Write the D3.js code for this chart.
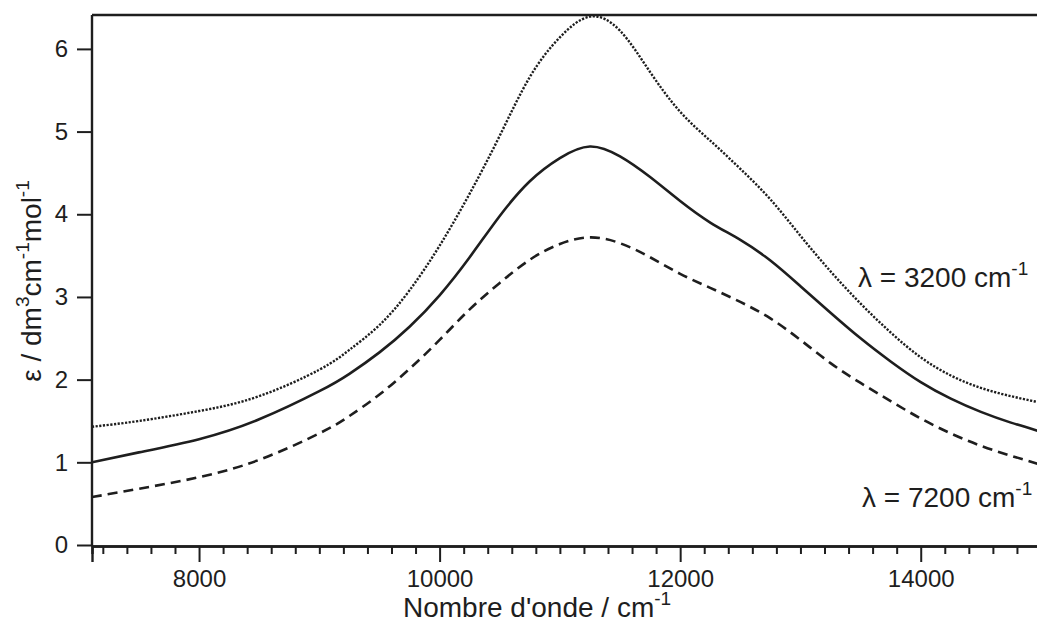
<!DOCTYPE html>
<html>
<head>
<meta charset="utf-8">
<script src="https://cdn.jsdelivr.net/npm/d3@7"></script>
<style>
  html, body { margin: 0; padding: 0; background: #fff; }
  svg { display: block; }
  text { font-family: "Liberation Sans", Arial, Helvetica, sans-serif; fill: #1e1e1e; }
</style>
</head>
<body>
<svg id="chart" width="1037" height="622"></svg>
<script>
// Wavenumber grid (cm-1)
const wavenumbers = [7110, 7500, 8000, 8500, 9000, 9250, 9500, 9750, 10000, 10250, 10500, 10750, 11000, 11250, 11500,
                     11750, 12000, 12250, 12500, 12750, 13000, 13250, 13500, 13750, 14000, 14250, 14500, 14750, 15000];

// Molar absorption coefficient for λ = 3200 cm-1 (dotted)
const epsLambda3200 = [1.43, 1.50, 1.62, 1.80, 2.12, 2.36, 2.66, 3.08, 3.62, 4.25, 4.95, 5.66, 6.14, 6.39, 6.22,
                       5.72, 5.24, 4.89, 4.55, 4.18, 3.74, 3.31, 2.92, 2.57, 2.27, 2.05, 1.90, 1.80, 1.72];

// Intermediate λ (solid)
const epsIntermediate = [1.00, 1.12, 1.28, 1.52, 1.86, 2.07, 2.33, 2.64, 3.02, 3.48, 3.98, 4.40, 4.68, 4.82, 4.70,
                         4.45, 4.16, 3.90, 3.69, 3.44, 3.13, 2.81, 2.50, 2.22, 1.97, 1.77, 1.61, 1.48, 1.37];

// λ = 7200 cm-1 (dashed)
const epsLambda7200 = [0.58, 0.68, 0.82, 1.03, 1.35, 1.56, 1.82, 2.13, 2.48, 2.85, 3.17, 3.45, 3.64, 3.72, 3.65,
                       3.48, 3.28, 3.11, 2.94, 2.74, 2.48, 2.20, 1.96, 1.74, 1.53, 1.35, 1.20, 1.08, 0.97];

const xMajorTicks = [8000, 10000, 12000, 14000];
const yTicks = [0, 1, 2, 3, 4, 5, 6];
const xDomain = [7110, 15000];
const yDomain = [0, 6.41];

(function draw() {
  const svg = d3.select("#chart");
  const plotLeft = 92, plotRight = 1041, plotTop = 15, plotBottom = 545;

  const x = d3.scaleLinear().domain(xDomain).range([plotLeft, plotRight]);
  const y = d3.scaleLinear().domain(yDomain).range([plotBottom, plotTop]);

  const ink = "#1e1e1e";

  svg.append("defs").append("clipPath").attr("id", "plotClip")
    .append("rect").attr("x", plotLeft).attr("y", plotTop - 2)
    .attr("width", plotRight - plotLeft).attr("height", plotBottom - plotTop + 2);

  // Curves
  const series = [
    { values: epsLambda3200, dash: "2.2,1.5", width: 2.4 },
    { values: epsIntermediate, dash: null, width: 2.6 },
    { values: epsLambda7200, dash: "10,6", width: 2.6 }
  ];

  const line = d3.line()
    .x(d => x(d[0]))
    .y(d => y(d[1]))
    .curve(d3.curveNatural);

  const plot = svg.append("g").attr("clip-path", "url(#plotClip)");
  series.forEach(s => {
    plot.append("path")
      .datum(wavenumbers.map((w, i) => [w, s.values[i]]))
      .attr("d", line)
      .attr("fill", "none")
      .attr("stroke", ink)
      .attr("stroke-width", s.width)
      .attr("stroke-dasharray", s.dash);
  });

  // Frame: top edge
  svg.append("line")
    .attr("x1", plotLeft).attr("x2", 1037).attr("y1", plotTop).attr("y2", plotTop)
    .attr("stroke", ink).attr("stroke-width", 2.4);

  // X axis with minor ticks every 200 cm-1
  const xMinor = d3.range(7200, 15001, 200).filter(v => !xMajorTicks.includes(v));
  const xAxisMinor = d3.axisBottom(x).tickValues(xMinor).tickSize(8).tickFormat("");
  const xAxisMajor = d3.axisBottom(x).tickValues(xMajorTicks).tickSize(16).tickPadding(8).tickFormat(d3.format("d"));

  const gxMinor = svg.append("g").attr("transform", `translate(0,${plotBottom + 1})`).call(xAxisMinor);
  gxMinor.selectAll(".tick text").remove();
  const gx = svg.append("g").attr("transform", `translate(0,${plotBottom + 1})`).call(xAxisMajor);
  [gxMinor, gx].forEach(g => {
    g.select(".domain").attr("stroke", ink).attr("stroke-width", 2.4);
    g.selectAll(".tick line").attr("stroke", ink).attr("stroke-width", 2);
  });
  gx.selectAll(".tick text")
    .attr("font-size", 24).attr("fill", ink)
    .style("font-family", "'Liberation Sans', Arial, sans-serif");

  // Y axis
  const yAxis = d3.axisLeft(y).tickValues(yTicks).tickSize(15).tickPadding(9).tickFormat(d3.format("d"));
  const gy = svg.append("g").attr("transform", `translate(${plotLeft},0)`).call(yAxis);
  gy.select(".domain").attr("stroke", ink).attr("stroke-width", 2.4)
    .attr("d", `M0,${plotTop}V${plotBottom + 1}`);
  gy.selectAll(".tick line").attr("stroke", ink).attr("stroke-width", 2);
  gy.selectAll(".tick text")
    .attr("font-size", 24).attr("fill", ink)
    .style("font-family", "'Liberation Sans', Arial, sans-serif");

  // Text with superscripts: raised parts shift up, the following part drops back
  function richText(sel, parts, size) {
    const rise = size * 0.42;
    let pendingDrop = 0;
    parts.forEach(p => {
      const ts = sel.append("tspan");
      if (p.sup) {
        ts.attr("font-size", size * 0.68).attr("dy", -rise + pendingDrop);
        pendingDrop = rise;
      } else {
        ts.attr("font-size", size).attr("dy", pendingDrop);
        pendingDrop = 0;
      }
      ts.text(p.t);
    });
  }

  // X axis title
  const xTitle = svg.append("text").attr("x", 403).attr("y", 617);
  richText(xTitle, [{ t: "Nombre d'onde / cm" }, { t: "-1", sup: true }], 28);

  // Y axis title
  const yTitle = svg.append("text")
    .attr("transform", "translate(41,281) rotate(-90)")
    .attr("text-anchor", "middle");
  richText(yTitle, [{ t: "\u03B5 / dm" }, { t: "3", sup: true }, { t: "cm" }, { t: "-1", sup: true },
                    { t: "mol" }, { t: "-1", sup: true }], 28);

  // Curve annotations
  const lab1 = svg.append("text").attr("x", 858).attr("y", 287);
  richText(lab1, [{ t: "\u03BB = 3200 cm" }, { t: "-1", sup: true }], 28);
  const lab2 = svg.append("text").attr("x", 862).attr("y", 507);
  richText(lab2, [{ t: "\u03BB = 7200 cm" }, { t: "-1", sup: true }], 28);
})();
</script>
</body>
</html>
